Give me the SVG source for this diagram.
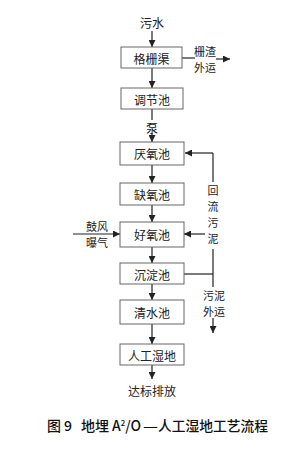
<svg xmlns="http://www.w3.org/2000/svg" width="306" height="460" viewBox="0 0 306 460">
<defs>
<marker id="ah" viewBox="0 0 10 10" refX="10" refY="5" markerWidth="7" markerHeight="7" markerUnits="userSpaceOnUse" orient="auto">
<path d="M0,0 L10,5 L0,10 z" fill="#222"/>
</marker>
</defs>
<style>
.box{fill:#fff;stroke:#666;stroke-width:1}
.t{font-family:"Noto Sans CJK SC","Liberation Serif",serif;font-size:12px;fill:#222;text-anchor:middle;dominant-baseline:central}
.s{font-size:11px}
.ln{stroke:#222;stroke-width:1.2;fill:none}
.cap{font-family:"Noto Sans CJK SC","Liberation Serif",serif;font-size:14px;fill:#111;font-weight:500}
</style>
<rect width="306" height="460" fill="#fff"/>
<g id="connectors">
<line class="ln" x1="152" y1="31" x2="152" y2="47" marker-end="url(#ah)"/>
<line class="ln" x1="152" y1="68" x2="152" y2="88" marker-end="url(#ah)"/>
<line class="ln" x1="152" y1="109" x2="152" y2="120"/>
<line class="ln" x1="152" y1="133" x2="152" y2="142" marker-end="url(#ah)"/>
<line class="ln" x1="152" y1="165" x2="152" y2="183" marker-end="url(#ah)"/>
<line class="ln" x1="152" y1="205" x2="152" y2="222" marker-end="url(#ah)"/>
<line class="ln" x1="152" y1="247" x2="152" y2="263" marker-end="url(#ah)"/>
<line class="ln" x1="152" y1="284" x2="152" y2="300" marker-end="url(#ah)"/>
<line class="ln" x1="152" y1="324" x2="152" y2="344" marker-end="url(#ah)"/>
<line class="ln" x1="152" y1="365" x2="152" y2="379" marker-end="url(#ah)"/>
<line class="ln" x1="181" y1="58" x2="195" y2="58" stroke-width="0.8" stroke="#555"/>
<line class="ln" x1="216" y1="59" x2="230" y2="59" marker-end="url(#ah)"/>
<line class="ln" x1="73" y1="234" x2="120" y2="234" marker-end="url(#ah)"/>
<line class="ln" x1="184" y1="274" x2="213" y2="274"/>
<line class="ln" x1="213" y1="153" x2="213" y2="182"/>
<line class="ln" x1="213" y1="249" x2="213" y2="287"/>
<line class="ln" x1="213" y1="153" x2="185" y2="153" marker-end="url(#ah)"/>
<line class="ln" x1="205" y1="234" x2="184" y2="234" marker-end="url(#ah)"/>
<line class="ln" x1="213" y1="318" x2="213" y2="333" marker-end="url(#ah)"/>
</g>
<text class="t" x="152" y="22">污水</text>
<g id="n1"><rect class="box" x="121" y="47" width="61" height="21"/><text class="t" x="151.5" y="58">格栅渠</text></g>
<text class="t s" x="205" y="51">栅渣</text>
<text class="t s" x="205" y="67">外运</text>
<g id="n2"><rect class="box" x="121" y="88" width="62" height="21"/><text class="t" x="152" y="99">调节池</text></g>
<text class="t" x="152" y="127">泵</text>
<g id="n3"><rect class="box" x="120" y="142" width="64" height="23"/><text class="t" x="152" y="153.5">厌氧池</text></g>
<g id="n4"><rect class="box" x="120" y="183" width="64" height="22"/><text class="t" x="152" y="194">缺氧池</text></g>
<g id="n5"><rect class="box" x="120" y="222" width="64" height="25"/><text class="t" x="152" y="234.5">好氧池</text></g>
<text class="t s" x="97" y="226">鼓风</text>
<text class="t s" x="97" y="242">曝气</text>
<text class="t s" x="213" y="190">回</text>
<text class="t s" x="213" y="206">流</text>
<text class="t s" x="213" y="222">污</text>
<text class="t s" x="213" y="238">泥</text>
<g id="n6"><rect class="box" x="120" y="263" width="64" height="21"/><text class="t" x="152" y="274">沉淀池</text></g>
<text class="t s" x="214" y="295">污泥</text>
<text class="t s" x="214" y="311">外运</text>
<g id="n7"><rect class="box" x="120" y="300" width="64" height="24"/><text class="t" x="152" y="312">清水池</text></g>
<g id="n8"><rect class="box" x="120" y="344" width="64" height="21"/><text class="t" x="152" y="355">人工湿地</text></g>
<text class="t" x="152" y="390">达标排放</text>
<g id="caption">
<text class="cap" x="47" y="431">图</text>
<text class="cap" x="64" y="431">9</text>
<text class="cap" x="81" y="431">地埋</text>
<text class="cap" x="112" y="431">A<tspan font-size="8" dy="-5">2</tspan><tspan dy="5">/O</tspan></text>
<text class="cap" x="143" y="431" textLength="15" lengthAdjust="spacingAndGlyphs">—</text>
<text class="cap" x="158" y="431" textLength="110" lengthAdjust="spacingAndGlyphs">人工湿地工艺流程</text>
</g>
</svg>
